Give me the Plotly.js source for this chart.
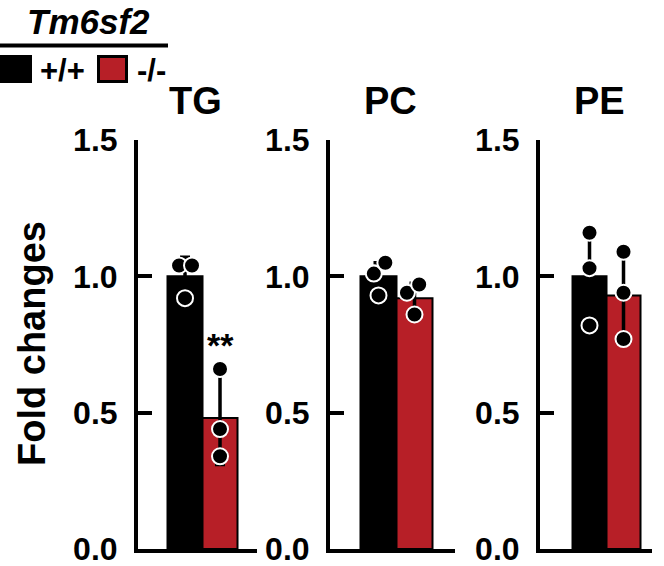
<!DOCTYPE html>
<html>
<head>
<meta charset="utf-8">
<script src="https://cdn.plot.ly/plotly-3.0.1.min.js"></script>
<style>html,body{margin:0;padding:0;background:#fff;}#chart{width:664px;height:566px;}</style>
</head>
<body>
<div id="chart"></div>
<script>
// ---- data ----
const lipids = ['TG', 'PC', 'PE'];
const genotypes = ['+/+', '-/-'];
const geneName = 'Tm6sf2';
const yTitle = 'Fold changes';
const yTicks = [0, 0.5, 1.0, 1.5];
const sigLabel = '**';

const meanTG = [1.00, 0.48];
const sdTG   = [0.07, 0.17];
const meanPC = [1.00, 0.92];
const sdPC   = [0.05, 0.055];
const meanPE = [1.00, 0.93];
const sdPE   = [0.177, 0.155];

const dotsTG_wt = [1.04, 1.04, 0.92];
const dotsTG_ko = [0.66, 0.44, 0.34];
const dotsPC_wt = [1.01, 1.05, 0.93];
const dotsPC_ko = [0.94, 0.97, 0.86];
const dotsPE_wt = [1.16, 1.03, 0.82];
const dotsPE_ko = [1.09, 0.94, 0.77];

// horizontal scatter of dots within a bar (category units)
const jitterTG_wt = [-0.17, 0.2, 0];
const jitterTG_ko = [0, 0, 0];
const jitterPC_wt = [-0.13, 0.19, 0];
const jitterPC_ko = [-0.21, 0.13, 0];
const jitterPE_wt = [0, 0, 0];
const jitterPE_ko = [0, 0, 0];

// ---- styling ----
const W = 664, H = 566;
const RED = '#B71F27';
const barColors = ['#000000', RED];
const px = x => x / W;
const py = y => 1 - y / H;
const FONT = 'Liberation Sans, Arial, sans-serif';

const panels = [
  {mean: meanTG, sd: sdTG, wt: dotsTG_wt, ko: dotsTG_ko, jw: jitterTG_wt, jk: jitterTG_ko, dom: [138, 257], range: [-1.343, 2.057], tx: 195},
  {mean: meanPC, sd: sdPC, wt: dotsPC_wt, ko: dotsPC_ko, jw: jitterPC_wt, jk: jitterPC_ko, dom: [330, 455], range: [-1.347, 2.125], tx: 390},
  {mean: meanPE, sd: sdPE, wt: dotsPE_wt, ko: dotsPE_ko, jw: jitterPE_wt, jk: jitterPE_ko, dom: [540, 652], range: [-1.456, 1.838], tx: 599}
];

const traces = [];
const layout = {
  width: W, height: H,
  margin: {l: 0, r: 0, t: 0, b: 0},
  paper_bgcolor: '#fff', plot_bgcolor: 'rgba(0,0,0,0)',
  showlegend: false,
  bargap: 0,
  annotations: [], shapes: []
};
const tickFont = {family: FONT, size: 32, weight: 700, color: '#000'};
const yDom = [(H - 549) / H, (H - 140) / H];

panels.forEach((p, i) => {
  const n = i === 0 ? '' : String(i + 1);
  const xa = 'x' + n, ya = 'y' + n;
  traces.push({
    type: 'bar', x: [0, 1], y: p.mean, width: 1,
    xaxis: xa, yaxis: ya,
    marker: {color: barColors, line: {color: '#000', width: 2}},
    error_y: {type: 'data', array: p.sd, visible: true, color: '#000', thickness: 3.5, width: 5},
    hoverinfo: 'skip'
  });
  [[p.wt, p.jw, 0], [p.ko, p.jk, 1]].forEach(([vals, jit, g]) => {
    traces.push({
      type: 'scatter', mode: 'markers',
      x: vals.map((v, k) => g + jit[k]), y: vals,
      xaxis: xa, yaxis: ya,
      marker: {size: 16, color: '#000', line: {color: '#fff', width: 2}},
      hoverinfo: 'skip', cliponaxis: false
    });
  });
  layout['xaxis' + n] = {
    domain: [px(p.dom[0]), px(p.dom[1])], range: p.range,
    showline: true, linecolor: '#000', linewidth: 4,
    showgrid: false, zeroline: false, showticklabels: false, ticks: '',
    anchor: ya, fixedrange: true
  };
  layout['yaxis' + n] = {
    domain: yDom, range: [0, 1.5],
    showline: true, linecolor: '#000', linewidth: 4,
    showgrid: false, zeroline: false,
    tickmode: 'array', tickvals: yTicks, ticktext: yTicks.map(v => v.toFixed(1)),
    ticks: 'inside', ticklen: 14, tickwidth: 4, tickcolor: '#000',
    tickfont: tickFont, ticklabelstandoff: 10, ticklabeloverflow: 'allow',
    anchor: xa, fixedrange: true
  };
  layout.annotations.push({
    xref: 'paper', yref: 'paper', x: px(p.tx), y: py(101),
    xanchor: 'center', yanchor: 'middle', showarrow: false,
    text: lipids[i],
    font: {family: FONT, size: 38, weight: 700, color: '#000'}
  });
});

// significance
layout.annotations.push({
  xref: 'x', yref: 'y', x: 1, y: 0.67,
  xanchor: 'center', yanchor: 'bottom', showarrow: false,
  text: sigLabel,
  font: {family: FONT, size: 34, weight: 700, color: '#000'}
});

// y title
layout.annotations.push({
  xref: 'paper', yref: 'paper', x: px(32), y: py(344),
  xanchor: 'center', yanchor: 'middle', showarrow: false, textangle: -90,
  text: yTitle,
  font: {family: FONT, size: 38, weight: 700, color: '#000'}
});

// legend block
layout.annotations.push({
  xref: 'paper', yref: 'paper', x: px(88), y: py(21),
  xanchor: 'center', yanchor: 'middle', showarrow: false,
  text: '<i>' + geneName + '</i>',
  font: {family: FONT, size: 35, weight: 700, color: '#000'}
});
layout.annotations.push({
  xref: 'paper', yref: 'paper', x: px(62), y: py(70),
  xanchor: 'center', yanchor: 'middle', showarrow: false,
  text: genotypes[0],
  font: {family: FONT, size: 31, weight: 700, color: '#000'}
});
layout.annotations.push({
  xref: 'paper', yref: 'paper', x: px(151), y: py(70),
  xanchor: 'center', yanchor: 'middle', showarrow: false,
  text: genotypes[1],
  font: {family: FONT, size: 31, weight: 700, color: '#000'}
});
layout.shapes.push({
  type: 'line', xref: 'paper', yref: 'paper',
  x0: px(0), x1: px(168), y0: py(45.5), y1: py(45.5),
  line: {color: '#000', width: 4}
});
layout.shapes.push({
  type: 'rect', xref: 'paper', yref: 'paper',
  x0: px(0), x1: px(32), y0: py(83), y1: py(55),
  fillcolor: barColors[0], line: {color: '#000', width: 0}
});
layout.shapes.push({
  type: 'rect', xref: 'paper', yref: 'paper',
  x0: px(98.5), x1: px(126.5), y0: py(81.5), y1: py(56.5),
  fillcolor: barColors[1], line: {color: '#000', width: 3}
});

Plotly.newPlot('chart', traces, layout, {displayModeBar: false, staticPlot: true});
</script>
</body>
</html>
